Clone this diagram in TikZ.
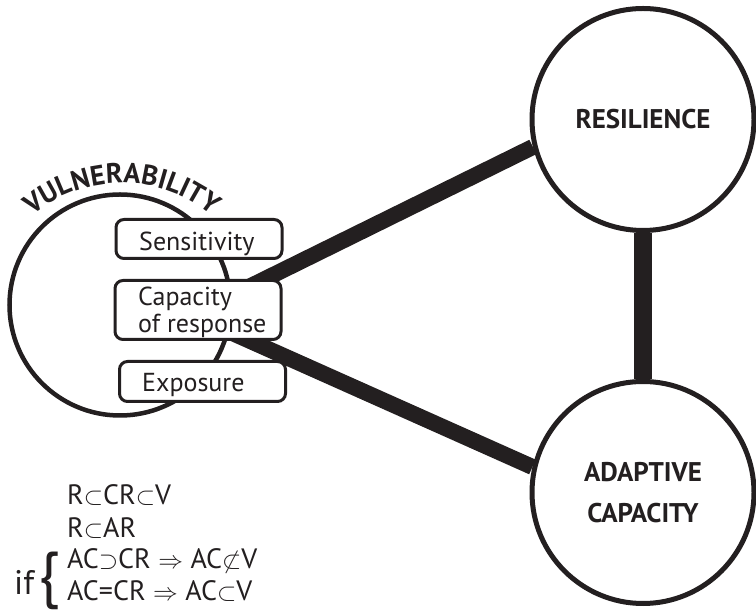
\documentclass[tikz,border=0pt]{standalone}
\usepackage{fontspec}
\setmainfont{PT Sans}
\usetikzlibrary{decorations.text,backgrounds}
\definecolor{ink}{RGB}{35,31,32}
\begin{document}
\begin{tikzpicture}[x=1bp,y=1bp,
  every node/.style={text=ink},
  bigcircle/.style={circle, draw=ink, fill=white, line width=5bp,
    minimum size=222bp, inner sep=0pt, align=center,
    font=\fontsize{27bp}{41bp}\selectfont\bfseries},
  vulcircle/.style={circle, draw=ink, fill=white, line width=4.5bp,
    minimum size=221bp, inner sep=0pt},
  itembox/.style={draw=ink, fill=white, rounded corners=8bp, line width=3bp,
    minimum width=166bp, inner sep=0pt},
  itemtext/.style={anchor=base west, inner sep=0pt, align=left,
    font=\fontsize{26bp}{27bp}\selectfont},
  link/.style={draw=ink, line width=16bp},
  formula/.style={anchor=base west, inner sep=0pt,
    font=\fontsize{28bp}{28bp}\selectfont}
]
\useasboundingbox (0,0) rectangle (756,612);

% the two outer concepts
\node[bigcircle] (res) at (643,492.5) {RESILIENCE};
\node[bigcircle] (adapt) at (643,119.5) {ADAPTIVE\\CAPACITY};

% components of vulnerability
\node[itembox, minimum height=39bp] (sens) at (199,373) {};
\node[itembox, minimum height=59bp] (cap) at (198,302) {};
\node[itembox, minimum height=40bp] (expo) at (202.5,230.5) {};
\node[itemtext] (sensT) at (139,361) {Sensitivity};
\node[itemtext] (capT) at (138,279) {Capacity\\of response};
\node[itemtext] (expoT) at (142,220) {Exposure};

\begin{scope}[on background layer]
  \node[vulcircle] (vul) at (120,307) {};
  \coordinate (hub) at (192,297);
  \draw[link] (hub) -- (res.194);
  \draw[link] (hub) -- (adapt.167);
  \draw[link, line width=18bp] (res.south) -- (adapt.north);
\end{scope}

% curved title over the vulnerability circle
\coordinate (arcc) at (122,289);
\path[decorate, decoration={text along path, text align=center,
    text color=ink,
    text={|\fontsize{28bp}{28bp}\selectfont\bfseries\addfontfeature{LetterSpace=5}|VULNERABILITY}}]
  (arcc) ++(150:140) arc[start angle=150, end angle=30, radius=140];

% set relations
\node[formula] (f1) at (67,107) {R$\subset$CR$\subset$V};
\node[formula] (f2) at (67,74) {R$\subset$AR};
\node[formula] (f3) at (67,43) {AC$\supset$CR $\Rightarrow$ AC$\not\subset$V};
\node[formula] (f4) at (67,11) {AC=CR $\Rightarrow$ AC$\subset$V};
\node[anchor=base west, inner sep=0pt, font=\fontsize{34bp}{34bp}\selectfont] (iftxt) at (14,17) {if};
\node[inner sep=0pt, font=\fontsize{62bp}{62bp}\selectfont] (brace) at (49,31) {\{};
\end{tikzpicture}
\end{document}
